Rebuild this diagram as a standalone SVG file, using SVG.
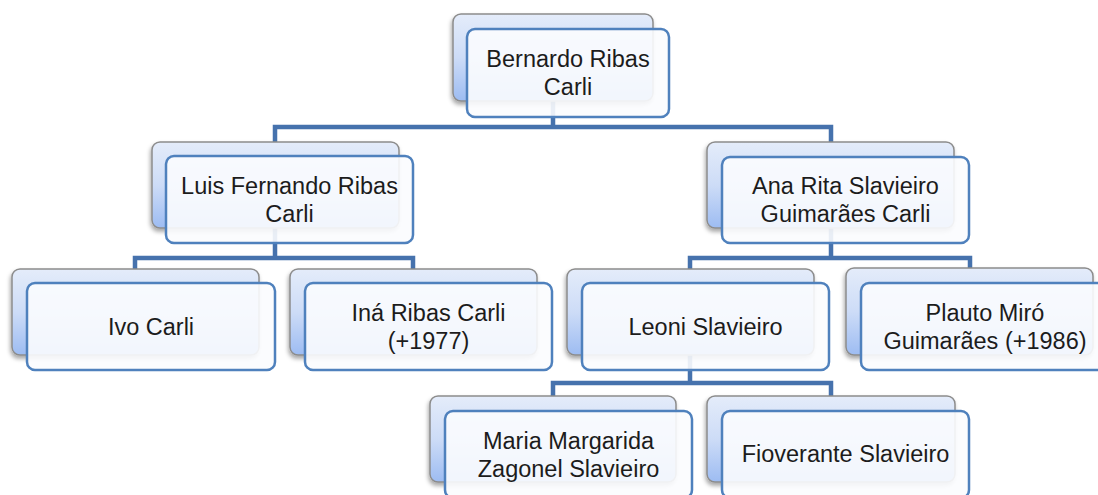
<svg xmlns="http://www.w3.org/2000/svg" width="1098" height="495" viewBox="0 0 1098 495">
<defs>
<linearGradient id="bg" x1="0" y1="0" x2="0" y2="1">
<stop offset="0" stop-color="#e4ecfa"/>
<stop offset="0.5" stop-color="#cddcf7"/>
<stop offset="1" stop-color="#9dbcf2"/>
</linearGradient>
<filter id="sh" x="-10%" y="-10%" width="120%" height="130%">
<feDropShadow dx="-1" dy="3" stdDeviation="2" flood-color="#000" flood-opacity="0.35"/>
</filter>
</defs>
<style>
.back{fill:url(#bg);stroke:#8c8c8c;stroke-width:1.5;filter:url(#sh)}
.front{fill:#fbfcfe;fill-opacity:0.9;stroke:#4f81bd;stroke-width:2.5}
.t{font-family:"Liberation Sans",Arial,sans-serif;font-size:23.5px;fill:#1c1c1c;text-anchor:middle}
.c{fill:none;stroke:#4672ad;stroke-width:4.5}
</style>
<rect width="1098" height="495" fill="#fff"/>
<g id="connectors">
<path class="c" d="M553,101 V127 M275,142 V127 H831 V142"/>
<path class="c" d="M275,228 V258 M135,269 V258 H413 V269"/>
<path class="c" d="M831,228 V258 M690,269 V258 H970 V268"/>
<path class="c" d="M690,355 V383 M553,396 V383 H831 V396"/>
</g>
<g id="n-bernardo">
<rect class="back" x="453" y="14" width="200" height="87" rx="8"/>
<rect class="front" x="467" y="29" width="202" height="88" rx="8"/>
<text class="t" x="568" y="67">Bernardo Ribas</text>
<text class="t" x="568" y="95">Carli</text>
</g>
<g id="n-luis">
<rect class="back" x="152" y="142" width="247" height="86" rx="8"/>
<rect class="front" x="166" y="156" width="247" height="87" rx="8"/>
<text class="t" x="289.5" y="193.5">Luis Fernando Ribas</text>
<text class="t" x="289.5" y="221.5">Carli</text>
</g>
<g id="n-ana">
<rect class="back" x="707" y="142" width="247" height="86" rx="8"/>
<rect class="front" x="722" y="157" width="247" height="86" rx="8"/>
<text class="t" x="845.5" y="194">Ana Rita Slavieiro</text>
<text class="t" x="845.5" y="222">Guimarães Carli</text>
</g>
<g id="n-ivo">
<rect class="back" x="12" y="269" width="247" height="86" rx="8"/>
<rect class="front" x="27" y="283" width="248" height="87" rx="8"/>
<text class="t" x="151" y="335">Ivo Carli</text>
</g>
<g id="n-ina">
<rect class="back" x="290" y="269" width="247" height="86" rx="8"/>
<rect class="front" x="305" y="283" width="247" height="87" rx="8"/>
<text class="t" x="428.5" y="320.5">Iná Ribas Carli</text>
<text class="t" x="428.5" y="348.5">(+1977)</text>
</g>
<g id="n-leoni">
<rect class="back" x="567" y="269" width="247" height="86" rx="8"/>
<rect class="front" x="582" y="283" width="247" height="87" rx="8"/>
<text class="t" x="705.5" y="335">Leoni Slavieiro</text>
</g>
<g id="n-plauto">
<rect class="back" x="846" y="268" width="247" height="87" rx="8"/>
<rect class="front" x="861" y="283" width="248" height="87" rx="8"/>
<text class="t" x="985" y="320.5">Plauto Miró</text>
<text class="t" x="985" y="348.5">Guimarães (+1986)</text>
</g>
<g id="n-maria">
<rect class="back" x="430" y="396" width="246" height="86" rx="8"/>
<rect class="front" x="445" y="411" width="247" height="87" rx="8"/>
<text class="t" x="568.5" y="448.5">Maria Margarida</text>
<text class="t" x="568.5" y="476.5">Zagonel Slavieiro</text>
</g>
<g id="n-fioverante">
<rect class="back" x="707" y="396" width="248" height="86" rx="8"/>
<rect class="front" x="722" y="411" width="247" height="87" rx="8"/>
<text class="t" x="845.5" y="462">Fioverante Slavieiro</text>
</g>
</svg>
